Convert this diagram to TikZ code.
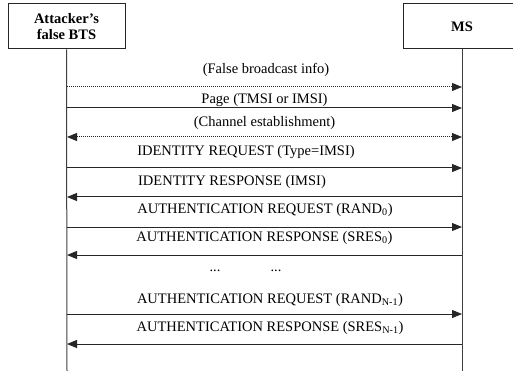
\documentclass[tikz,border=0pt]{standalone}
\usepackage{fontspec}
\setmainfont{Liberation Serif}
\usetikzlibrary{arrows.meta}

\begin{document}
\begin{tikzpicture}[
    x=1pt, y=-1pt,
    font=\fontsize{14.5}{16}\selectfont,
    entity/.style={rectangle, draw=black!85, line width=1pt, minimum width=117pt, minimum height=45pt, inner sep=0pt, align=center, font=\fontsize{14.5}{16}\selectfont\bfseries},
    lifeline/.style={draw=black!75, line width=1pt},
    msg/.style={-{Triangle[length=10pt,width=8pt]}, black!85, line width=1pt},
    optmsg/.style={msg, dash pattern=on 1pt off 1pt},
    label/.style={inner sep=0pt}
]
    \clip (0,0) rectangle (513,371);

    % Entities
    \node[entity] (bts) at (66.5,26.5) {Attacker's\\false BTS};
    \node[entity] (ms) at (462,26.5) {MS};

    % Lifelines
    \coordinate (btsend) at (67,371);
    \coordinate (msend) at (462,371);
    \draw[lifeline] (bts.south) -- (btsend);
    \draw[lifeline] (ms.south) -- (msend);

    % Message end points
    \coordinate (b1) at (67,87);   \coordinate (m1) at (462,87);
    \coordinate (b2) at (67,108);  \coordinate (m2) at (462,108);
    \coordinate (b3) at (67,137);  \coordinate (m3) at (462,137);
    \coordinate (b4) at (67,168);  \coordinate (m4) at (462,168);
    \coordinate (b5) at (67,197);  \coordinate (m5) at (462,197);
    \coordinate (b6) at (67,227);  \coordinate (m6) at (462,227);
    \coordinate (b7) at (67,255);  \coordinate (m7) at (462,255);
    \coordinate (b8) at (67,314);  \coordinate (m8) at (462,314);
    \coordinate (b9) at (67,344);  \coordinate (m9) at (462,344);

    % Messages
    \draw[optmsg] (b1) -- (m1);
    \draw[msg] (b2) -- (m2);
    \draw[optmsg, {Triangle[length=10pt,width=8pt]}-{Triangle[length=10pt,width=8pt]}] (b3) -- (m3);
    \draw[msg] (b4) -- (m4);
    \draw[msg] (m5) -- (b5);
    \draw[msg] (b6) -- (m6);
    \draw[msg] (m7) -- (b7);
    \draw[msg] (b8) -- (m8);
    \draw[msg] (m9) -- (b9);

    % Labels
    \node[label] (l1) at (266,70) {(False broadcast info)};
    \node[label] (l2) at (264.5,100) {Page (TMSI or IMSI)};
    \node[label] (l3) at (264.5,123) {(Channel establishment)};
    \node[label] (l4) at (246,152) {IDENTITY REQUEST (Type=IMSI)};
    \node[label] (l5) at (232,182) {IDENTITY RESPONSE (IMSI)};
    \node[label] (l6) at (265,210) {AUTHENTICATION REQUEST (RAND\textsubscript{0})};
    \node[label] (l7) at (264.5,238) {AUTHENTICATION RESPONSE (SRES\textsubscript{0})};
    \node[label] (dots1) at (215,271) {...};
    \node[label] (dots2) at (276,271) {...};
    \node[label] (l8) at (270,300) {AUTHENTICATION REQUEST (RAND\textsubscript{N-1})};
    \node[label] (l9) at (270,328) {AUTHENTICATION RESPONSE (SRES\textsubscript{N-1})};

\end{tikzpicture}
\end{document}
